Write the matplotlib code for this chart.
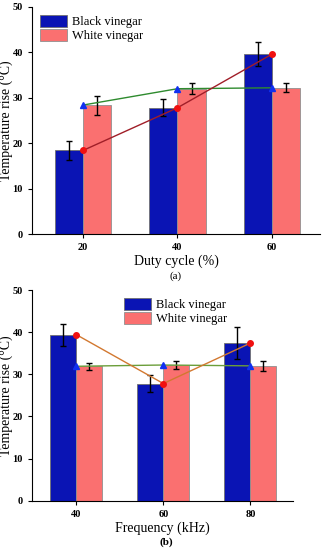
import matplotlib.pyplot as plt
import numpy as np

plt.rcParams['font.family'] = ['Liberation Serif', 'DejaVu Serif']

# panel (a): duty cycle
duty_labels = ['20', '40', '60']
duty_black = [18.4, 27.8, 39.6]
duty_black_err = [2.0, 1.9, 2.65]
duty_white = [28.4, 32.0, 32.2]
duty_white_err = [2.1, 1.2, 0.95]

# panel (b): frequency
freq_labels = ['40', '60', '80']
freq_black = [39.4, 27.8, 37.4]
freq_black_err = [2.65, 1.95, 3.85]
freq_white = [31.9, 32.2, 32.0]
freq_white_err = [0.8, 0.9, 1.2]

blue = '#0A14B4'
salmon = '#FA7070'
w = 0.3


def panel(ax, labels, black, black_err, white, white_err, xlabel,
          line_black, line_white, xlim, legend_kw):
    x = np.arange(len(labels))
    ax.bar(x - w / 2, black, w, color=blue, edgecolor='#707070', linewidth=0.6,
           label='Black vinegar', zorder=2)
    ax.bar(x + w / 2, white, w, color=salmon, edgecolor='#909090', linewidth=0.6,
           label='White vinegar', zorder=2)
    ax.errorbar(x - w / 2, black, yerr=black_err, fmt='none', ecolor='black',
                elinewidth=1, capsize=2.5, capthick=1, zorder=3)
    ax.errorbar(x + w / 2, white, yerr=white_err, fmt='none', ecolor='black',
                elinewidth=1, capsize=2.5, capthick=1, zorder=3)
    ax.plot(x, white, color=line_white, lw=1, zorder=4)
    ax.plot(x, white, '^', color='#1030F0', ms=4, zorder=5)
    ax.plot(x, black, color=line_black, lw=1, zorder=4)
    ax.plot(x, black, 'o', color='#F01010', ms=4, zorder=5)

    ax.set_xticks(x)
    ax.set_xticklabels(labels)
    ax.set_xlim(*xlim)
    ax.set_ylim(0, 50)
    ax.set_yticks(range(0, 51, 10))
    ax.spines['top'].set_visible(False)
    ax.spines['right'].set_visible(False)
    ax.tick_params(direction='out', length=3, width=0.8, labelsize=7.5)
    for t in ax.get_xticklabels() + ax.get_yticklabels():
        t.set_fontweight('bold')
    ax.set_xlabel(xlabel, fontsize=10, labelpad=2)
    ax.set_ylabel('Temperature rise (\u00b0C)', fontsize=10)
    ax.legend(fontsize=9, frameon=False, handlelength=2.2,
              handleheight=1.1, labelspacing=0.1, handletextpad=0.4,
              borderaxespad=0.2, **legend_kw)


fig = plt.figure(figsize=(3.23, 5.5), dpi=100)
ax1 = fig.add_axes([32 / 323, 316 / 550, 288 / 323, 227 / 550])
ax2 = fig.add_axes([32 / 323, 49.3 / 550, 261 / 323, 210.7 / 550])

panel(ax1, duty_labels, duty_black, duty_black_err, duty_white, duty_white_err,
      'Duty cycle (%)', '#A01E28', '#2E8B2E', (-0.54, 2.51),
      dict(loc='upper left'))
panel(ax2, freq_labels, freq_black, freq_black_err, freq_white, freq_white_err,
      'Frequency (kHz)', '#D27830', '#6B9E3A', (-0.51, 2.49),
      dict(loc='upper left', bbox_to_anchor=(84 / 261, 1.0)))

ax1.yaxis.set_label_coords(-19 / 288, 0.5)
ax2.yaxis.set_label_coords(-19 / 261, 0.5)

fig.text(176 / 323, 1 - 276 / 550, '(a)', ha='center', va='center', fontsize=8)
fig.text(166 / 323, 1 - 542 / 550, '(b)', ha='center', va='center', fontsize=8,
         fontweight='bold')

fig.savefig('out.png', dpi=100)
